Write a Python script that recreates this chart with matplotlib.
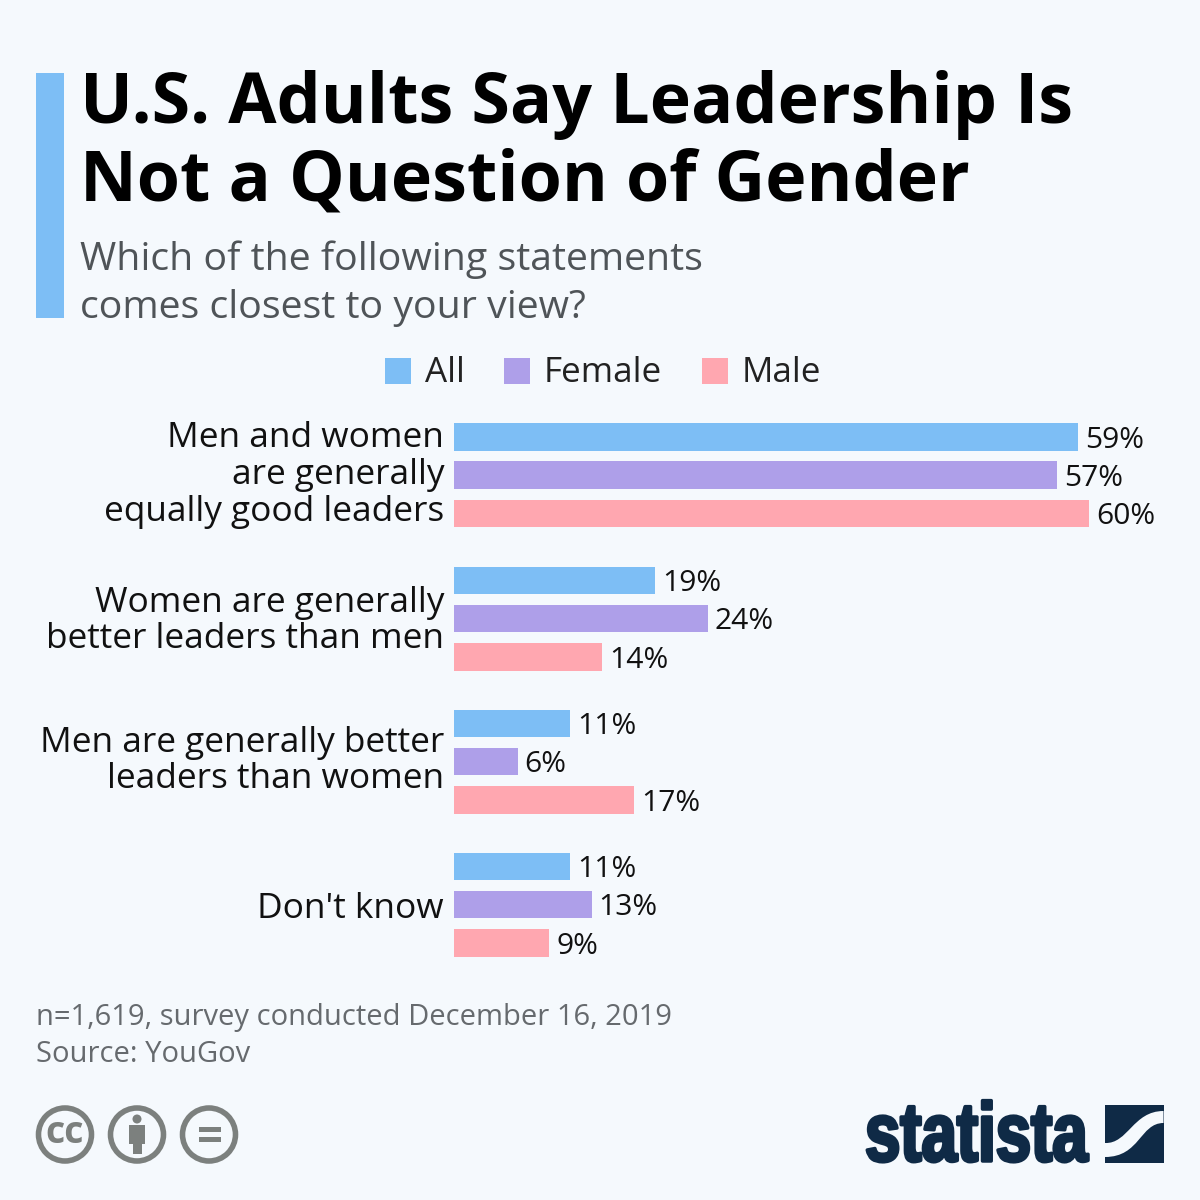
import matplotlib
matplotlib.use("Agg")
import matplotlib.pyplot as plt
from matplotlib.patches import Rectangle, Circle, PathPatch
from matplotlib.path import Path
from matplotlib.patheffects import AbstractPathEffect
from matplotlib.transforms import Affine2D

categories = ["Men and women\nare generally\nequally good leaders",
              "Women are generally\nbetter leaders than men",
              "Men are generally better\nleaders than women",
              "Don't know"]
series_names = ["All", "Female", "Male"]
all_values = [59, 19, 11, 11]
female_values = [57, 24, 6, 13]
male_values = [60, 14, 17, 9]
colors = ["#7dbef5", "#ae9fe9", "#ffa7b0"]
BG = "#f5f9fd"
plt.rcParams['font.family'] = ['Open Sans', 'DejaVu Sans']


class NarrowBold(AbstractPathEffect):
    """Condense a text horizontally about x0 (device px) and thicken its strokes."""
    def __init__(self, x0, sx, lw, color):
        super().__init__()
        self.x0, self.sx, self.lw, self.color = x0, sx, lw, color

    def draw_path(self, renderer, gc, tpath, affine, rgbFace=None):
        gc0 = renderer.new_gc()
        gc0.copy_properties(gc)
        gc0.set_linewidth(self.lw)
        gc0.set_foreground(self.color)
        t = affine + Affine2D().translate(-self.x0, 0).scale(self.sx, 1).translate(self.x0, 0)
        renderer.draw_path(gc0, tpath, t, rgbFace)
        gc0.restore()


fig = plt.figure(figsize=(12, 12), dpi=100, facecolor=BG)
page = fig.add_axes([0, 0, 1, 1])
page.set_xlim(0, 1200)
page.set_ylim(1200, 0)
page.axis("off")

page.add_patch(Rectangle((36, 73), 28, 245, color="#7dbef5", lw=0))
page.text(80, 105, "U.S. Adults Say Leadership Is", fontsize=50.4, fontweight="bold", color="#000000", va="center")
page.text(80, 183, "Not a Question of Gender", fontsize=50.4, fontweight="bold", color="#000000", va="center")
page.text(80, 260, "Which of the following statements", fontsize=28.3, color="#4f5458", va="center")
page.text(80, 308, "comes closest to your view?", fontsize=28.3, color="#4f5458", va="center")

for x, tx, name, c in zip([385, 504, 702], [425, 544, 742], series_names, colors):
    page.add_patch(Rectangle((x, 358), 26, 26, color=c, lw=0))
    page.text(tx, 373, name, fontsize=25.2, color="#222222", va="center")

# bars
ax = fig.add_axes([454 / 1200, 1 - 960 / 1200, 635 / 1200, 540 / 1200])
ax.set_xlim(0, 60)
ax.set_ylim(960, 420)
ax.axis("off")
ax.patch.set_alpha(0)
group_tops = [423, 566.5, 709.5, 852.5]
label_y = [475, 621, 761, 909]
step = 38.4
for gi, vals in enumerate(zip(all_values, female_values, male_values)):
    for si, v in enumerate(vals):
        y = group_tops[gi] + step * si
        ax.barh(y, v, height=27.5, align="edge", color=colors[si], lw=0)
        ax.annotate(f"{v}%", (v, y + 17), xytext=(5, 0), textcoords="offset points",
                    fontsize=21.6, color="#111111", va="center")
    page.text(444, label_y[gi], categories[gi], fontsize=25.4, color="#111111", ha="right",
              va="center", linespacing=1.11)

page.text(36, 1017, "n=1,619, survey conducted December 16, 2019", fontsize=21, color="#666a6e", va="center")
page.text(36, 1054, "Source: YouGov", fontsize=21, color="#666a6e", va="center")

# licence icons
G = "#7c807e"
for cx in (65, 137, 209):
    page.add_patch(Circle((cx, 1134.5), 26.5, fc="none", ec=G, lw=4))
page.text(65, 1133, "cc", fontsize=27, fontweight="bold", color=G, ha="center", va="center")
page.add_patch(Circle((137, 1119), 4.5, color=G, lw=0))
page.add_patch(Rectangle((129, 1125), 16, 19, color=G, lw=0))
page.add_patch(Rectangle((132.5, 1140), 9, 14, color=G, lw=0))
page.add_patch(Rectangle((199, 1127), 22, 5, color=G, lw=0))
page.add_patch(Rectangle((199, 1137), 22, 5, color=G, lw=0))

# logo
NAVY = "#0f2a46"
logo = page.text(865, 1161, "statista", fontsize=60, fontweight="bold", color=NAVY, va="baseline",
                 family=["Liberation Sans", "DejaVu Sans"])
logo.set_path_effects([NarrowBold(865, 0.763, 2.5, NAVY)])
page.add_patch(Rectangle((1105, 1105), 58.5, 58, color=NAVY, lw=0))
band_verts = [(1105, 1143), (1128, 1144), (1133, 1111), (1163.5, 1111),
              (1163.5, 1123), (1140, 1123), (1140, 1157), (1105, 1157), (1105, 1143)]
band_codes = [Path.MOVETO, Path.CURVE4, Path.CURVE4, Path.CURVE4,
              Path.LINETO, Path.CURVE4, Path.CURVE4, Path.CURVE4, Path.CLOSEPOLY]
page.add_patch(PathPatch(Path(band_verts, band_codes), fc=BG, lw=0))

fig.savefig("out.png", dpi=100, facecolor=BG)
